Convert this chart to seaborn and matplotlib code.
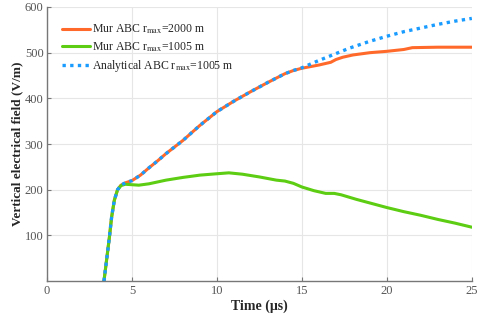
import pandas as pd
import seaborn as sns
import matplotlib.pyplot as plt

# Time (us) and field (V/m)
t_mur2000 = [3.35, 3.5, 3.67, 3.8, 3.96, 4.15, 4.35, 4.6, 5.0, 5.5, 6.0, 6.5, 7.0, 8.0, 9.0,
             10.0, 11.0, 12.0, 13.0, 14.0, 14.5, 15.0, 16.0, 16.7, 17.0, 17.4, 18.0, 19.0,
             20.0, 21.0, 21.5, 23.0, 25.0]
e_mur2000 = [0, 45, 96, 140, 177, 200, 210, 215, 220, 232, 248, 263, 279, 308, 341,
             371, 394, 415, 435, 454, 461, 466, 473, 479, 485, 490, 495, 500,
             503, 507, 511, 512, 512]

t_mur1005 = [3.35, 3.5, 3.67, 3.8, 3.96, 4.15, 4.35, 4.6, 5.0, 5.4, 6.0, 7.0, 8.0, 9.0,
             10.0, 10.7, 11.5, 12.5, 13.5, 14.0, 14.5, 15.0, 15.7, 16.4, 16.9, 17.3,
             18.2, 19.0, 20.0, 21.0, 22.0, 23.0, 24.0, 25.0]
e_mur1005 = [0, 45, 96, 140, 177, 200, 209, 212, 211, 210, 213, 221, 227, 232,
             235, 237, 234, 228, 221, 219, 214, 206, 198, 192, 192, 189,
             179, 171, 161, 152, 144, 135, 127, 118]

t_analytic = [3.35, 3.5, 3.67, 3.8, 3.96, 4.15, 4.35, 4.6, 5.0, 5.5, 6.0, 6.5, 7.0, 8.0, 9.0,
              10.0, 11.0, 12.0, 13.0, 14.0, 14.5, 15.0, 16.0, 17.0, 17.8, 19.0, 20.0,
              21.0, 22.0, 23.0, 24.0, 25.0]
e_analytic = [0, 45, 96, 140, 177, 200, 210, 215, 220, 232, 248, 263, 279, 308, 341,
              371, 394, 415, 435, 454, 461, 467, 483, 498, 510, 525, 536,
              546, 554, 562, 569, 575]

labels = [r"Mur ABC r$_{\rm max}$=2000 m",
          r"Mur ABC r$_{\rm max}$=1005 m",
          r"Analytical ABC r$_{\rm max}$=1005 m"]

sns.set_style("white")
plt.rcParams["font.family"] = ["Liberation Serif", "DejaVu Serif"]
plt.rcParams["mathtext.fontset"] = "stix"

fig, ax = plt.subplots(figsize=(4.8, 3.18), dpi=100)
fig.subplots_adjust(left=0.098, right=0.983, bottom=0.116, top=0.978)

sns.lineplot(x=t_mur2000, y=e_mur2000, ax=ax, color="#ff6a2b", linewidth=2.2,
             label=labels[0])
sns.lineplot(x=t_mur1005, y=e_mur1005, ax=ax, color="#5ccd12", linewidth=2.2,
             label=labels[1])
sns.lineplot(x=t_analytic, y=e_analytic, ax=ax, color="#1a9cff", linewidth=2.4,
             linestyle=(0, (1, 1.3)), label=labels[2])

ax.set_xlim(0, 25)
ax.set_ylim(0, 600)
ax.set_xticks([0, 5, 10, 15, 20, 25])
ax.set_yticks([100, 200, 300, 400, 500, 600])
ax.grid(True, color="#e6e6e6", linewidth=0.8)
ax.set_axisbelow(True)
for s in ["top", "right"]:
    ax.spines[s].set_visible(False)
for s in ["left", "bottom"]:
    ax.spines[s].set_color("#777777")
    ax.spines[s].set_linewidth(1.0)
ax.tick_params(direction="in", length=3, color="#777777", labelsize=9,
               labelcolor="#555555", left=True, bottom=True, pad=2.5)

ax.set_xlabel("Time (μs)", fontsize=10, fontweight="bold", labelpad=2)
ax.set_ylabel("Vertical electrical field (V/m)", fontsize=9.5, fontweight="bold",
              labelpad=1)

ax.legend(loc="upper left", bbox_to_anchor=(0.025, 0.96), frameon=False,
          fontsize=8.5, handlelength=2.3, handletextpad=0.25, labelspacing=0.35,
          borderaxespad=0)

fig.savefig("out.png", dpi=100)
